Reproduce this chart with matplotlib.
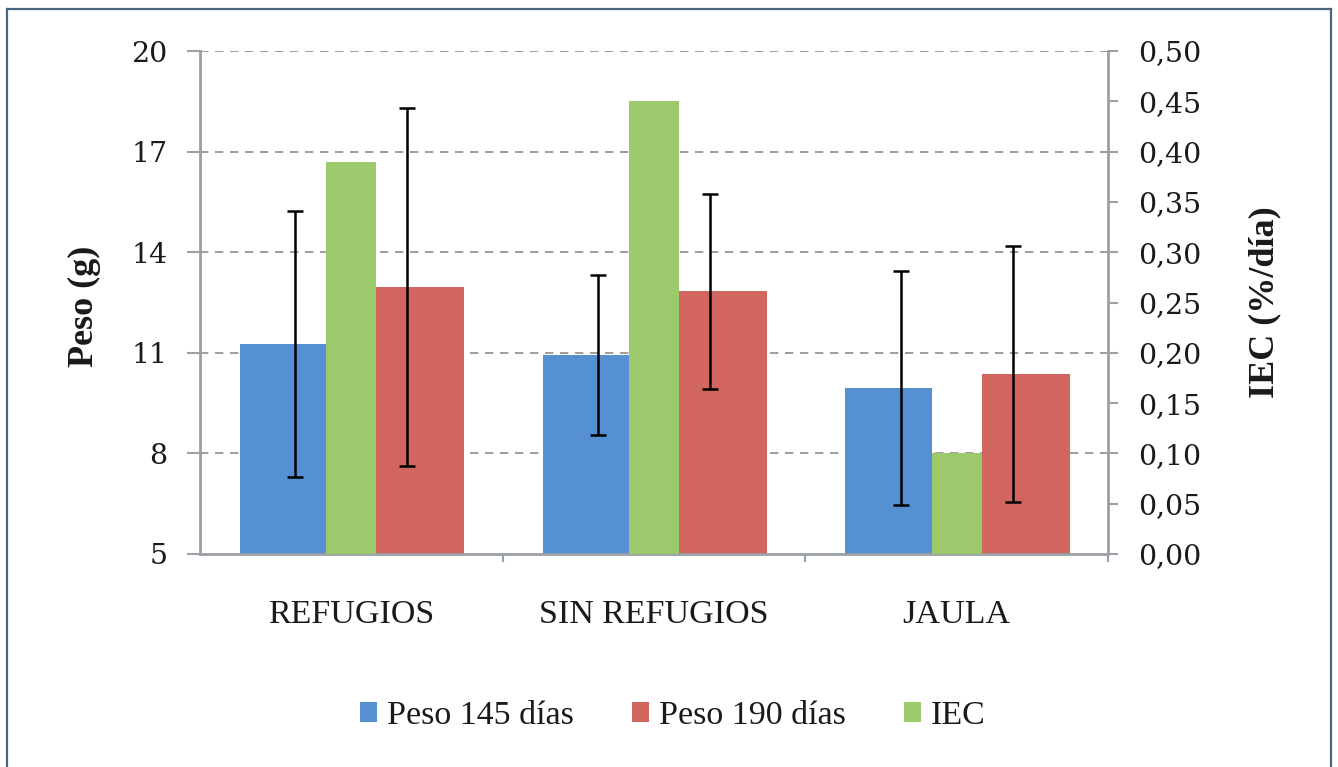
import numpy as np
import matplotlib
matplotlib.use("Agg")
import matplotlib.pyplot as plt
from matplotlib.patches import Patch
from matplotlib.lines import Line2D

categories = ["REFUGIOS", "SIN REFUGIOS", "JAULA"]
peso145 = [11.27, 10.94, 9.95]
sd145 = [3.96, 2.39, 3.50]
peso190 = [12.96, 12.83, 10.37]
sd190 = [5.35, 2.90, 3.82]
iec = [0.39, 0.45, 0.10]
left_ticks = [5, 8, 11, 14, 17, 20]
right_ticks = [0.00, 0.05, 0.10, 0.15, 0.20, 0.25, 0.30, 0.35, 0.40, 0.45, 0.50]
legend_labels = ["Peso 145 días", "Peso 190 días", "IEC"]

BLUE = "#5591D2"
RED = "#D16660"
GREEN = "#9DC96D"
AXC = "#9aa0a6"
GRIDC = "#8c8c8c"
TXT = "#1a1a1a"

W, H = 1338, 767
fig = plt.figure(figsize=(W / 100, H / 100), dpi=100)
fig.patch.set_facecolor("white")

ax = fig.add_axes([200 / W, 1 - 554 / H, (1108 - 200) / W, (554 - 51) / H])
x = np.arange(len(categories))

ax.bar(x - 0.225, peso145, width=0.285, color=BLUE, zorder=2)
ax.bar(x + 0.228, peso190, width=0.29, color=RED, zorder=2)
ax.errorbar(x - 0.185, peso145, yerr=sd145, fmt="none", ecolor="black",
            elinewidth=1.8, capsize=6, capthick=1.8, zorder=4)
ax.errorbar(x + 0.185, peso190, yerr=sd190, fmt="none", ecolor="black",
            elinewidth=1.8, capsize=6, capthick=1.8, zorder=4)

ax.set_xlim(-0.5, 2.5)
ax.set_ylim(5, 20)
ax.set_yticks(left_ticks)
ax.set_yticklabels([str(v) for v in left_ticks], family="DejaVu Serif", fontsize=20.5, color=TXT)
for v in left_ticks[1:]:
    ax.axhline(v, color=GRIDC, lw=1.2, ls=(0, (5, 4)), zorder=1)

ax.set_xticks([0.5, 1.5, 2.5], minor=False)
ax.set_xticklabels([])
ax.set_xticks(x, minor=True)
ax.set_xticklabels(categories, minor=True, family="Liberation Serif", fontsize=24.5, color=TXT)
ax.tick_params(axis="x", which="major", direction="out", length=6, width=1.5, color=AXC)
ax.tick_params(axis="x", which="minor", length=0, pad=33)
ax.tick_params(axis="y", direction="out", length=9.5, width=1.5, color=AXC, pad=14)

for s in ["top", "right"]:
    ax.spines[s].set_visible(False)
ax.spines["left"].set_color(AXC)
ax.spines["left"].set_linewidth(2)
ax.spines["bottom"].set_color(AXC)
ax.spines["bottom"].set_linewidth(2)

ax2 = ax.twinx()
ax2.bar(x, iec, width=0.165, color=GREEN, zorder=3)
ax2.set_ylim(0, 0.5)
ax2.set_yticks(right_ticks)
ax2.set_yticklabels([f"{v:.2f}".replace(".", ",") for v in right_ticks],
                    family="DejaVu Serif", fontsize=20.5, color=TXT)
ax2.tick_params(axis="y", direction="out", length=7.5, width=1.5, color=AXC, pad=14)
for s in ["top", "left", "bottom"]:
    ax2.spines[s].set_visible(False)
ax2.spines["right"].set_color(AXC)
ax2.spines["right"].set_linewidth(2)

fig.text(84 / W, 1 - 306 / H, "Peso (g)", rotation=90, ha="center", va="center",
         family="Liberation Serif", fontweight="bold", fontsize=26, color=TXT)
fig.text(1265 / W, 1 - 302 / H, "IEC (%/día)", rotation=90, ha="center", va="center",
         family="Liberation Serif", fontweight="bold", fontsize=26, color=TXT)

handles = [Patch(facecolor=c, edgecolor="none") for c in (BLUE, RED, GREEN)]
fig.legend(handles, legend_labels, loc="center", bbox_to_anchor=(0.503, 1 - 716 / H),
           ncol=3, frameon=False, handlelength=0.5, handleheight=0.5,
           handletextpad=0.3, columnspacing=1.7, labelcolor=TXT,
           prop={"family": "Liberation Serif", "size": 24.5})

BORDER = "#4a6580"
bx0, bx1, by0 = 7 / W, 1331 / W, 1 - 9 / H
for xs, ys in [([bx0, bx1], [by0, by0]), ([bx0, bx0], [by0, -0.01]), ([bx1, bx1], [by0, -0.01])]:
    fig.add_artist(Line2D(xs, ys, transform=fig.transFigure, color=BORDER, lw=1.6))

fig.savefig("out.png", dpi=100)
